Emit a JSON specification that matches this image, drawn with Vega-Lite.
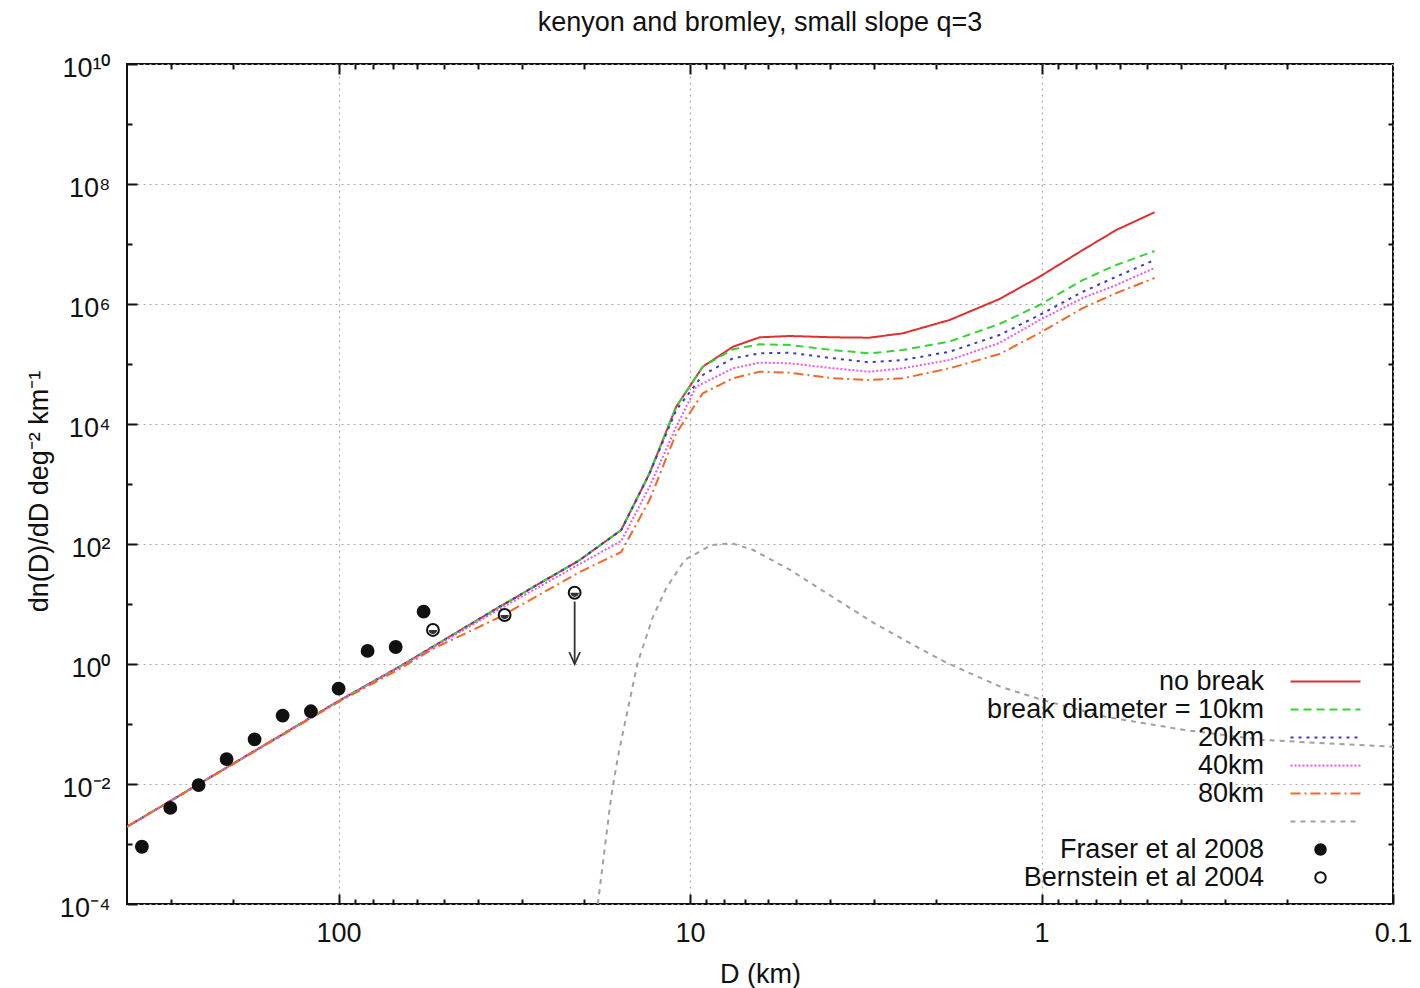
{
  "$schema": "https://vega.github.io/schema/vega-lite/v6.json",
  "width": 1266,
  "height": 840,
  "autosize": {"type": "none"},
  "padding": {"left": 127, "top": 64, "right": 27, "bottom": 84},
  "background": "white",
  "title": {"text": "kenyon and bromley, small slope q=3", "anchor": "middle", "frame": "group", "baseline": "alphabetic", "offset": -4, "fontSize": 27, "font": "Liberation Sans", "fontWeight": "normal", "color": "#111"},
  "config": {
    "view": {"stroke": "#111", "strokeWidth": 2},
    "axis": {"labelFont": "Liberation Sans", "labelFontSize": 27, "labelColor": "#111", "titleFont": "Liberation Sans", "titleFontSize": 27, "titleFontWeight": "normal", "titleColor": "#111", "tickColor": "#111", "tickWidth": 2, "domain": false, "gridColor": "#a8a8a8", "gridDash": [2, 4], "gridWidth": 1.2, "labelFlush": false, "labelOverlap": false}
  },
  "datasets": {
    "curves": [
      {"D": 400, "n": 0.00194, "s": "no break"},
      {"D": 100, "n": 0.2416, "s": "no break"},
      {"D": 67.1, "n": 0.902, "s": "no break"},
      {"D": 34.8, "n": 9.02, "s": "no break"},
      {"D": 20.6, "n": 54.1, "s": "no break"},
      {"D": 15.7, "n": 171, "s": "no break"},
      {"D": 13.04, "n": 1507, "s": "no break"},
      {"D": 10.95, "n": 19420, "s": "no break"},
      {"D": 9.2, "n": 90200, "s": "no break"},
      {"D": 7.55, "n": 194200, "s": "no break"},
      {"D": 6.34, "n": 278600, "s": "no break"},
      {"D": 5.21, "n": 293000, "s": "no break"},
      {"D": 3.92, "n": 278600, "s": "no break"},
      {"D": 3.09, "n": 274400, "s": "no break"},
      {"D": 2.48, "n": 325000, "s": "no break"},
      {"D": 1.827, "n": 541000, "s": "no break"},
      {"D": 1.317, "n": 1210000, "s": "no break"},
      {"D": 1.013, "n": 2850000, "s": "no break"},
      {"D": 0.763, "n": 7940000, "s": "no break"},
      {"D": 0.613, "n": 17100000, "s": "no break"},
      {"D": 0.477, "n": 33800000, "s": "no break"},

      {"D": 400, "n": 0.00194, "s": "break diameter = 10km"},
      {"D": 100, "n": 0.2416, "s": "break diameter = 10km"},
      {"D": 67.1, "n": 0.902, "s": "break diameter = 10km"},
      {"D": 34.8, "n": 9.02, "s": "break diameter = 10km"},
      {"D": 20.6, "n": 54.1, "s": "break diameter = 10km"},
      {"D": 15.7, "n": 171, "s": "break diameter = 10km"},
      {"D": 13.04, "n": 1507, "s": "break diameter = 10km"},
      {"D": 10.95, "n": 19420, "s": "break diameter = 10km"},
      {"D": 9.2, "n": 90200, "s": "break diameter = 10km"},
      {"D": 7.55, "n": 175800, "s": "break diameter = 10km"},
      {"D": 6.34, "n": 213000, "s": "break diameter = 10km"},
      {"D": 5.21, "n": 207400, "s": "break diameter = 10km"},
      {"D": 3.92, "n": 171000, "s": "break diameter = 10km"},
      {"D": 3.09, "n": 150700, "s": "break diameter = 10km"},
      {"D": 2.48, "n": 171000, "s": "break diameter = 10km"},
      {"D": 1.827, "n": 237100, "s": "break diameter = 10km"},
      {"D": 1.317, "n": 464000, "s": "break diameter = 10km"},
      {"D": 1.013, "n": 962000, "s": "break diameter = 10km"},
      {"D": 0.763, "n": 2510000, "s": "break diameter = 10km"},
      {"D": 0.613, "n": 4470000, "s": "break diameter = 10km"},
      {"D": 0.477, "n": 7640000, "s": "break diameter = 10km"},

      {"D": 400, "n": 0.00194, "s": "20km"},
      {"D": 100, "n": 0.2416, "s": "20km"},
      {"D": 67.1, "n": 0.902, "s": "20km"},
      {"D": 34.8, "n": 9.02, "s": "20km"},
      {"D": 20.6, "n": 54.1, "s": "20km"},
      {"D": 15.7, "n": 171, "s": "20km"},
      {"D": 13.04, "n": 1507, "s": "20km"},
      {"D": 10.95, "n": 17100, "s": "20km"},
      {"D": 9.2, "n": 65600, "s": "20km"},
      {"D": 7.55, "n": 124500, "s": "20km"},
      {"D": 6.34, "n": 150700, "s": "20km"},
      {"D": 5.21, "n": 154300, "s": "20km"},
      {"D": 3.92, "n": 124500, "s": "20km"},
      {"D": 3.09, "n": 106700, "s": "20km"},
      {"D": 2.48, "n": 116600, "s": "20km"},
      {"D": 1.827, "n": 160300, "s": "20km"},
      {"D": 1.317, "n": 304300, "s": "20km"},
      {"D": 1.013, "n": 655600, "s": "20km"},
      {"D": 0.763, "n": 1600000, "s": "20km"},
      {"D": 0.613, "n": 2850000, "s": "20km"},
      {"D": 0.477, "n": 5410000, "s": "20km"},

      {"D": 400, "n": 0.00194, "s": "40km"},
      {"D": 100, "n": 0.2416, "s": "40km"},
      {"D": 67.1, "n": 0.891, "s": "40km"},
      {"D": 34.8, "n": 8.25, "s": "40km"},
      {"D": 20.6, "n": 46.4, "s": "40km"},
      {"D": 15.7, "n": 112, "s": "40km"},
      {"D": 13.04, "n": 902, "s": "40km"},
      {"D": 10.95, "n": 9020, "s": "40km"},
      {"D": 9.6, "n": 41850, "s": "40km"},
      {"D": 7.55, "n": 84800, "s": "40km"},
      {"D": 6.34, "n": 105200, "s": "40km"},
      {"D": 5.21, "n": 102800, "s": "40km"},
      {"D": 3.92, "n": 84800, "s": "40km"},
      {"D": 3.09, "n": 74400, "s": "40km"},
      {"D": 2.48, "n": 84800, "s": "40km"},
      {"D": 1.827, "n": 116600, "s": "40km"},
      {"D": 1.317, "n": 223900, "s": "40km"},
      {"D": 1.013, "n": 541000, "s": "40km"},
      {"D": 0.763, "n": 1260000, "s": "40km"},
      {"D": 0.613, "n": 2070000, "s": "40km"},
      {"D": 0.477, "n": 3980000, "s": "40km"},

      {"D": 400, "n": 0.00194, "s": "80km"},
      {"D": 100, "n": 0.233, "s": "80km"},
      {"D": 67.1, "n": 0.825, "s": "80km"},
      {"D": 54.0, "n": 1.778, "s": "80km"},
      {"D": 34.8, "n": 6.07, "s": "80km"},
      {"D": 20.6, "n": 34.1, "s": "80km"},
      {"D": 15.7, "n": 73.6, "s": "80km"},
      {"D": 13.04, "n": 541, "s": "80km"},
      {"D": 10.95, "n": 7000, "s": "80km"},
      {"D": 9.2, "n": 32500, "s": "80km"},
      {"D": 7.55, "n": 57800, "s": "80km"},
      {"D": 6.34, "n": 74400, "s": "80km"},
      {"D": 5.21, "n": 71600, "s": "80km"},
      {"D": 3.92, "n": 57800, "s": "80km"},
      {"D": 3.09, "n": 54100, "s": "80km"},
      {"D": 2.48, "n": 57800, "s": "80km"},
      {"D": 1.827, "n": 84800, "s": "80km"},
      {"D": 1.317, "n": 146800, "s": "80km"},
      {"D": 1.013, "n": 328600, "s": "80km"},
      {"D": 0.763, "n": 857000, "s": "80km"},
      {"D": 0.613, "n": 1520000, "s": "80km"},
      {"D": 0.477, "n": 2710000, "s": "80km"},

      {"D": 18.3, "n": 0.0001, "s": "dist"},
      {"D": 16.77, "n": 0.00614, "s": "dist"},
      {"D": 16.05, "n": 0.0282, "s": "dist"},
      {"D": 15.12, "n": 0.15, "s": "dist"},
      {"D": 14.11, "n": 1.03, "s": "dist"},
      {"D": 12.76, "n": 6.07, "s": "dist"},
      {"D": 11.69, "n": 18.27, "s": "dist"},
      {"D": 10.36, "n": 54.1, "s": "dist"},
      {"D": 8.71, "n": 96.2, "s": "dist"},
      {"D": 7.59, "n": 102.7, "s": "dist"},
      {"D": 6.61, "n": 79.4, "s": "dist"},
      {"D": 5.19, "n": 36.9, "s": "dist"},
      {"D": 3.94, "n": 13.2, "s": "dist"},
      {"D": 2.99, "n": 4.77, "s": "dist"},
      {"D": 2.27, "n": 1.94, "s": "dist"},
      {"D": 1.85, "n": 1.03, "s": "dist"},
      {"D": 1.31, "n": 0.419, "s": "dist"},
      {"D": 0.994, "n": 0.251, "s": "dist"},
      {"D": 0.658, "n": 0.132, "s": "dist"},
      {"D": 0.392, "n": 0.0794, "s": "dist"},
      {"D": 0.2335, "n": 0.0541, "s": "dist"},
      {"D": 0.1, "n": 0.0418, "s": "dist"}
    ],
    "pts": [
      {"D": 362.8, "n": 0.0009, "ds": "Fraser et al 2008"},
      {"D": 301.2, "n": 0.004, "ds": "Fraser et al 2008"},
      {"D": 250.2, "n": 0.0096, "ds": "Fraser et al 2008"},
      {"D": 208.3, "n": 0.026, "ds": "Fraser et al 2008"},
      {"D": 173.4, "n": 0.0556, "ds": "Fraser et al 2008"},
      {"D": 144.3, "n": 0.138, "ds": "Fraser et al 2008"},
      {"D": 119.9, "n": 0.163, "ds": "Fraser et al 2008"},
      {"D": 100, "n": 0.388, "ds": "Fraser et al 2008"},
      {"D": 82.7, "n": 1.65, "ds": "Fraser et al 2008"},
      {"D": 68.8, "n": 1.92, "ds": "Fraser et al 2008"},
      {"D": 57.3, "n": 7.44, "ds": "Fraser et al 2008"},
      {"D": 53.9, "n": 3.69, "ds": "Bernstein et al 2004"},
      {"D": 33.7, "n": 6.56, "ds": "Bernstein et al 2004"},
      {"D": 21.3, "n": 15.4, "ds": "Bernstein et al 2004"}
    ],
    "arrow": [
      {"D": 21.3, "n1": 11.0, "n2": 1.0}
    ]
  },
  "layer": [
    {
      "data": {"name": "curves"},
      "mark": {"type": "line", "strokeWidth": 2, "clip": true},
      "encoding": {
        "x": {"field": "D", "type": "quantitative", "scale": {"type": "log", "domain": [0.1, 400], "reverse": true, "nice": false},
          "axis": {"orient": "bottom", "values": [100, 10, 1, 0.1], "labelExpr": "datum.value < 1 ? '0.1' : format(datum.value, 'd')", "tickSize": -10, "labelPadding": 47, "labelBaseline": "alphabetic", "grid": true, "title": "D (km)", "titleX": 633, "titleY": 78, "titleBaseline": "alphabetic", "titleAnchor": "middle"}},
        "y": {"field": "n", "type": "quantitative", "scale": {"type": "log", "domain": [0.0001, 10000000000], "nice": false},
          "axis": {"orient": "left", "values": [0.0001, 0.01, 1, 100, 10000, 1000000, 100000000, 10000000000], "labelExpr": "['10⁻⁴','','10⁻²','','10⁰','','10²','','10⁴','','10⁶','','10⁸','','10¹⁰'][round(log(datum.value)/LN10)+4]", "tickSize": -10, "labelPadding": 27, "labelOffset": 4, "labelBaseline": "middle", "grid": true, "title": "dn(D)/dD deg⁻² km⁻¹", "titleX": -80, "titleY": 427, "titleBaseline": "alphabetic", "titleAngle": 270}},
        "color": {"field": "s", "type": "nominal",
          "scale": {"domain": ["no break", "break diameter = 10km", "20km", "40km", "80km", "dist"], "range": ["#dd3030", "#33d433", "#3a3ac0", "#ee55ee", "#ee6a2a", "#a0a0a0"]},
          "legend": {"orient": "none", "legendX": 1185, "legendY": 604, "title": null, "symbolType": "M-5,0H5", "symbolSize": 196, "symbolStrokeWidth": 2, "labelAlign": "right", "labelOffset": -75, "labelFontSize": 27, "labelFont": "Liberation Sans", "labelColor": "#111", "labelLimit": 500, "rowPadding": 0, "padding": 0, "labelExpr": "datum.label == 'dist' ? '' : datum.label"}},
        "strokeDash": {"field": "s", "type": "nominal",
          "scale": {"domain": ["no break", "break diameter = 10km", "20km", "40km", "80km", "dist"], "range": [[1, 0], [8, 5], [3, 5], [2, 2], [10, 4, 2, 4], [5, 5]]},
          "legend": {"orient": "none", "legendX": 1185, "legendY": 604, "title": null, "symbolType": "M-5,0H5", "symbolSize": 196, "symbolStrokeWidth": 2, "labelAlign": "right", "labelOffset": -75, "labelFontSize": 27, "labelFont": "Liberation Sans", "labelColor": "#111", "labelLimit": 500, "rowPadding": 0, "padding": 0, "labelExpr": "datum.label == 'dist' ? '' : datum.label"}}
      }
    },
    {
      "data": {"name": "pts"},
      "mark": {"type": "point", "filled": true, "shape": "circle", "stroke": "#111", "strokeWidth": 2, "size": 140, "opacity": 1},
      "encoding": {
        "x": {"field": "D", "type": "quantitative", "scale": {"type": "log", "domain": [0.1, 400], "reverse": true, "nice": false},
          "axis": {"orient": "bottom", "values": [300, 200, 90, 80, 70, 60, 50, 40, 30, 20, 9, 8, 7, 6, 5, 4, 3, 2, 0.9, 0.8, 0.7, 0.6, 0.5, 0.4, 0.3, 0.2], "labels": false, "tickSize": -5, "grid": false, "title": null}},
        "y": {"field": "n", "type": "quantitative", "scale": {"type": "log", "domain": [0.0001, 10000000000], "nice": false},
          "axis": {"orient": "left", "values": [0.001, 0.1, 10, 1000, 100000, 10000000, 1000000000], "labels": false, "tickSize": -5, "grid": false, "title": null}},
        "fill": {"field": "ds", "type": "nominal",
          "scale": {"domain": ["Fraser et al 2008", "Bernstein et al 2004"], "range": ["#111111", "#ffffff"]},
          "legend": {"orient": "none", "legendX": 1180, "legendY": 772, "title": null, "symbolType": "circle", "symbolSize": 110, "symbolStrokeColor": "#111", "symbolStrokeWidth": 2, "labelAlign": "right", "labelOffset": -70, "labelFontSize": 27, "labelFont": "Liberation Sans", "labelColor": "#111", "labelLimit": 500, "rowPadding": 0, "padding": 0}}
      }
    },
    {
      "data": {"name": "pts"},
      "transform": [{"filter": "datum.ds == 'Bernstein et al 2004'"}],
      "mark": {"type": "point", "filled": true, "shape": "M-1,0A1,1 0 0,0 1,0Z", "fill": "#333", "strokeWidth": 0, "size": 70, "opacity": 1},
      "encoding": {
        "x": {"field": "D", "type": "quantitative", "scale": {"type": "log", "domain": [0.1, 400], "reverse": true, "nice": false},
          "axis": {"orient": "top", "values": [100, 10, 1], "labels": false, "tickSize": -10, "grid": false, "title": null}},
        "y": {"field": "n", "type": "quantitative", "scale": {"type": "log", "domain": [0.0001, 10000000000], "nice": false},
          "axis": {"orient": "right", "values": [0.01, 1, 100, 10000, 1000000, 100000000], "labels": false, "tickSize": -10, "grid": false, "title": null}}
      }
    },
    {
      "data": {"name": "arrow"},
      "mark": {"type": "rule", "color": "#333", "strokeWidth": 1.8},
      "encoding": {
        "x": {"field": "D", "type": "quantitative", "scale": {"type": "log", "domain": [0.1, 400], "reverse": true, "nice": false},
          "axis": {"orient": "top", "values": [300, 200, 90, 80, 70, 60, 50, 40, 30, 20, 9, 8, 7, 6, 5, 4, 3, 2, 0.9, 0.8, 0.7, 0.6, 0.5, 0.4, 0.3, 0.2], "labels": false, "tickSize": -5, "grid": false, "title": null}},
        "y": {"field": "n1", "type": "quantitative", "scale": {"type": "log", "domain": [0.0001, 10000000000], "nice": false},
          "axis": {"orient": "right", "values": [0.001, 0.1, 10, 1000, 100000, 10000000, 1000000000], "labels": false, "tickSize": -5, "grid": false, "title": null}},
        "y2": {"field": "n2"}
      }
    },
    {
      "data": {"name": "arrow"},
      "mark": {"type": "point", "shape": "M-0.45,-1L0,0L0.45,-1", "filled": false, "stroke": "#333", "strokeWidth": 1.8, "size": 576, "opacity": 1},
      "encoding": {
        "x": {"field": "D", "type": "quantitative", "scale": {"type": "log", "domain": [0.1, 400], "reverse": true, "nice": false}, "axis": null},
        "y": {"field": "n2", "type": "quantitative", "scale": {"type": "log", "domain": [0.0001, 10000000000], "nice": false}, "axis": null}
      }
    }
  ],
  "resolve": {"axis": {"x": "independent", "y": "independent"}}
}
